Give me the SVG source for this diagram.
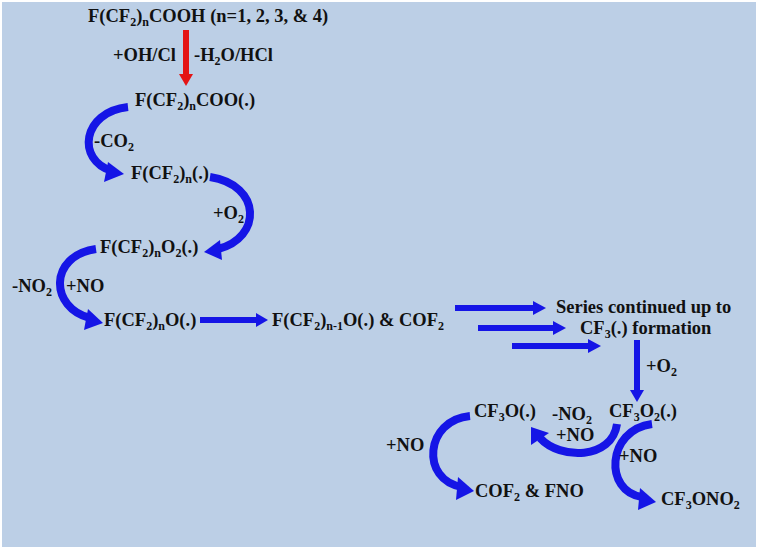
<svg xmlns="http://www.w3.org/2000/svg" width="758" height="555" viewBox="0 0 758 555">
<defs>
<style>
text{font-family:"Liberation Serif","DejaVu Serif","Times New Roman",serif;font-weight:bold;font-size:18.5px;fill:#111}
.s{font-size:12px}
.c{fill:none;stroke:#1515e6;stroke-width:8}
.l{stroke:#1515e6;stroke-width:6}
.h{fill:#1515e6}
</style>
</defs>
<rect x="0" y="0" width="758" height="555" fill="#fff"/>
<rect x="2" y="2" width="754" height="545" fill="#bccfe6"/>
<g id="connectors">
<line x1="186" y1="30" x2="186" y2="76" stroke="#e41414" stroke-width="6"/>
<polygon points="179,74 193,74 186,86" fill="#e41414"/>
<path class="c" d="M128,107 C82,112 76,160 112,171"/>
<polygon class="h" points="108,162 124,174 104,182"/>
<path class="c" d="M210,177 C262,185 262,238 218,249"/>
<polygon class="h" points="220,240 204,252 222,260"/>
<path class="c" d="M96,249 C48,256 50,308 90,318"/>
<polygon class="h" points="88,309 103,323 84,330"/>
<line class="l" x1="200" y1="320" x2="258" y2="320"/>
<polygon class="h" points="256,313 268,320 256,327"/>
<line class="l" x1="455" y1="308" x2="535" y2="308"/>
<polygon class="h" points="533,301 546,308 533,315"/>
<line class="l" x1="478" y1="328" x2="555" y2="328"/>
<polygon class="h" points="553,321 566,328 553,335"/>
<line class="l" x1="512" y1="346" x2="590" y2="346"/>
<polygon class="h" points="588,339 601,346 588,353"/>
<line class="l" x1="637" y1="340" x2="637" y2="392"/>
<polygon class="h" points="630,390 644,390 637,402"/>
<path class="c" d="M617,424 C612,460 560,460 540,438"/>
<polygon class="h" points="531,445 531,427 549,433"/>
<path class="c" d="M470,416 C425,420 420,480 462,487"/>
<polygon class="h" points="458,477 474,491 456,500"/>
<path class="c" d="M652,424 C606,430 604,492 642,497"/>
<polygon class="h" points="640,488 656,502 638,510"/>
</g>
<g id="n1"><text x="88" y="22">F(CF<tspan class="s" dy="4">2</tspan><tspan dy="-4">)</tspan><tspan class="s" dy="4">n</tspan><tspan dy="-4">COOH (n=1, 2, 3, &amp; 4)</tspan></text></g>
<g id="l1"><text x="113" y="61">+OH/Cl</text><text x="194" y="61">-H<tspan class="s" dy="4">2</tspan><tspan dy="-4">O/HCl</tspan></text></g>
<g id="n2"><text x="135" y="106">F(CF<tspan class="s" dy="4">2</tspan><tspan dy="-4">)</tspan><tspan class="s" dy="4">n</tspan><tspan dy="-4">COO(.)</tspan></text></g>
<g id="l2"><text x="94" y="147">-CO<tspan class="s" dy="4">2</tspan></text></g>
<g id="n3"><text x="131" y="179">F(CF<tspan class="s" dy="4">2</tspan><tspan dy="-4">)</tspan><tspan class="s" dy="4">n</tspan><tspan dy="-4">(.)</tspan></text></g>
<g id="l3"><text x="213" y="219">+O<tspan class="s" dy="4">2</tspan></text></g>
<g id="n4"><text x="100" y="253">F(CF<tspan class="s" dy="4">2</tspan><tspan dy="-4">)</tspan><tspan class="s" dy="4">n</tspan><tspan dy="-4">O</tspan><tspan class="s" dy="4">2</tspan><tspan dy="-4">(.)</tspan></text></g>
<g id="l4"><text x="12" y="292">-NO<tspan class="s" dy="4">2</tspan></text><text x="66" y="292">+NO</text></g>
<g id="n5"><text x="104" y="326">F(CF<tspan class="s" dy="4">2</tspan><tspan dy="-4">)</tspan><tspan class="s" dy="4">n</tspan><tspan dy="-4">O(.)</tspan></text></g>
<g id="n6"><text x="272" y="326">F(CF<tspan class="s" dy="4">2</tspan><tspan dy="-4">)</tspan><tspan class="s" dy="4">n-1</tspan><tspan dy="-4">O(.) &amp; COF</tspan><tspan class="s" dy="4">2</tspan></text></g>
<g id="n7"><text x="556" y="313">Series continued up to</text><text x="580" y="334">CF<tspan class="s" dy="4">3</tspan><tspan dy="-4">(.) formation</tspan></text></g>
<g id="l5"><text x="646" y="372">+O<tspan class="s" dy="4">2</tspan></text></g>
<g id="n8"><text x="609" y="417">CF<tspan class="s" dy="4">3</tspan><tspan dy="-4">O</tspan><tspan class="s" dy="4">2</tspan><tspan dy="-4">(.)</tspan></text></g>
<g id="n9"><text x="474" y="417">CF<tspan class="s" dy="4">3</tspan><tspan dy="-4">O(.)</tspan></text></g>
<g id="l6"><text x="552" y="420">-NO<tspan class="s" dy="4">2</tspan></text><text x="556" y="441">+NO</text></g>
<g id="l7"><text x="386" y="451">+NO</text></g>
<g id="n10"><text x="475" y="497">COF<tspan class="s" dy="4">2</tspan><tspan dy="-4"> &amp; FNO</tspan></text></g>
<g id="l8"><text x="619" y="462">+NO</text></g>
<g id="n11"><text x="661" y="505">CF<tspan class="s" dy="4">3</tspan><tspan dy="-4">ONO</tspan><tspan class="s" dy="4">2</tspan></text></g>
</svg>
